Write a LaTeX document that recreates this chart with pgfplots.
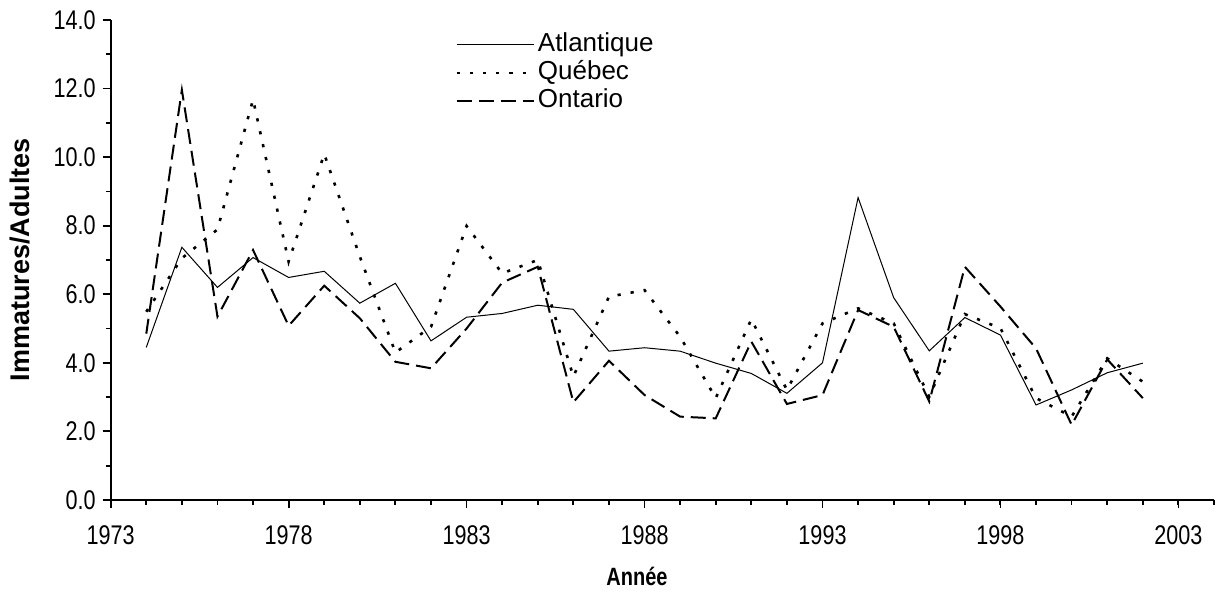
\documentclass[border=0pt]{standalone}
\usepackage{fontspec}
\setmainfont{Liberation Sans}
\newfontfamily\narrowfont[FakeStretch=0.8]{Liberation Sans}
\usepackage{pgfplots}
\pgfplotsset{compat=1.18}

\begin{document}
\begin{tikzpicture}
\begin{axis}[
  name=ax, scale only axis, width=551.7pt, height=240pt,
  xmin=1973, xmax=2004, ymin=0, ymax=14,
  axis x line*=bottom, axis y line*=left,
  axis line style={-, line width=0.9pt},
  xtick={1973,1978,...,2003}, minor xtick={1973,...,2004},
  ytick={0,2,...,14}, minor ytick={1,3,...,13},
  tick align=outside, major tick length=4pt, minor tick length=2.5pt,
  every tick/.append style={black, line width=0.9pt},
  /pgf/number format/assume math mode=true,
  tick label style={font=\narrowfont\fontsize{13.5}{15}\selectfont},
  x tick label style={/pgf/number format/1000 sep={}, yshift=-5.5pt},
  y tick label style={/pgf/number format/.cd, fixed, fixed zerofill, precision=1},
  xlabel={Année}, ylabel={Immatures/Adultes},
  xlabel style={at={(axis description cs:0.477,-0.16)}, anchor=center, font=\narrowfont\bfseries\fontsize{12.5}{14}\selectfont},
  ylabel style={at={(axis description cs:-0.082,0.5)}, anchor=center, font=\bfseries\fontsize{13.5}{15}\selectfont},
  legend cell align=left,
  legend image code/.code={\draw[#1] (0pt,0pt) -- (38.5pt,0pt);},
  legend style={draw=none, fill=none, at={(axis description cs:0.312,0.975)}, anchor=north west,
    font=\fontsize{13}{15}\selectfont, inner sep=0pt, row sep=1.5pt, column sep=1.5pt,
    nodes={inner sep=0pt, text height=9.5pt, text depth=3pt}},
]
% Atlantique
\addplot[black, line width=0.5pt, mark=none] coordinates {
(1974,4.45) (1975,7.37) (1976,6.20) (1977,7.07) (1978,6.49) (1979,6.67) (1980,5.74)
(1981,6.32) (1982,4.64) (1983,5.33) (1984,5.44) (1985,5.68) (1986,5.56) (1987,4.34)
(1988,4.44) (1989,4.34) (1990,3.99) (1991,3.69) (1992,3.11) (1993,4.00) (1994,8.82)
(1995,5.90) (1996,4.35) (1997,5.32) (1998,4.81) (1999,2.77) (2000,3.21) (2001,3.71)
(2002,3.99)};
% Quebec
\addplot[black, line width=1.3pt, dash pattern=on 1.6pt off 5pt, mark=none] coordinates {
(1974,5.49) (1975,7.05) (1976,7.89) (1977,11.68) (1978,6.95) (1979,10.09) (1980,7.10)
(1981,4.30) (1982,5.05) (1983,7.99) (1984,6.61) (1985,7.00) (1986,3.60) (1987,5.93)
(1988,6.12) (1989,4.76) (1990,2.97) (1991,5.27) (1992,3.21) (1993,5.15) (1994,5.59)
(1995,5.15) (1996,3.01) (1997,5.42) (1998,5.01) (1999,2.97) (2000,2.43) (2001,4.13)
(2002,3.45)};
% Ontario
\addplot[black, line width=1pt, dash pattern=on 7.5pt off 3.5pt, mark=none] coordinates {
(1974,4.85) (1975,11.96) (1976,5.35) (1977,7.29) (1978,5.08) (1979,6.25) (1980,5.30)
(1981,4.03) (1982,3.84) (1983,5.00) (1984,6.34) (1985,6.80) (1986,2.85) (1987,4.06)
(1988,3.06) (1989,2.43) (1990,2.38) (1991,4.62) (1992,2.80) (1993,3.06) (1994,5.54)
(1995,5.05) (1996,2.87) (1997,6.80) (1998,5.64) (1999,4.42) (2000,2.19) (2001,4.10)
(2002,2.97)};
\legend{Atlantique, Québec, Ontario}
\end{axis}
\pgfresetboundingbox
\path ([xshift=-55.35pt,yshift=-46pt]ax.south west) rectangle ([xshift=3pt,yshift=10pt]ax.north east);
\end{tikzpicture}
\end{document}
